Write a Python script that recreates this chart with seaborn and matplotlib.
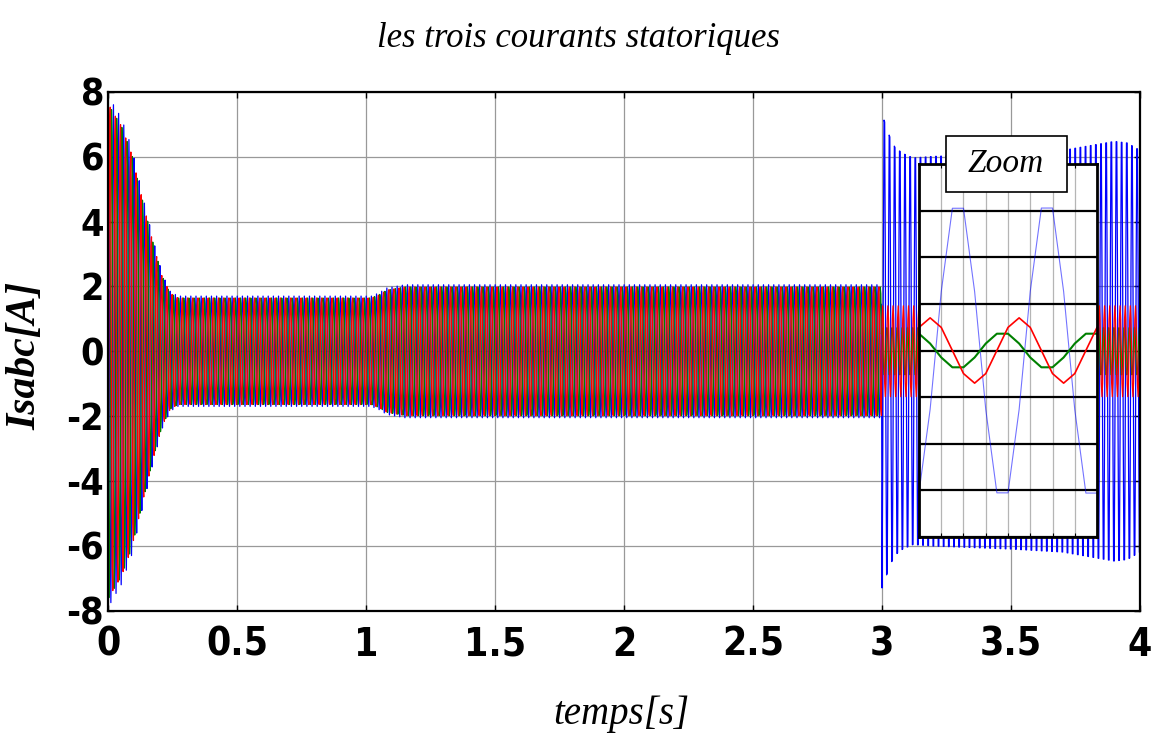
import numpy as np
import pandas as pd
import seaborn as sns
import matplotlib
matplotlib.use('Agg')
import matplotlib.pyplot as plt
from matplotlib import font_manager
from matplotlib.patches import Rectangle

# simulation output step and supply frequency
dt = 0.0025
f_supply = 50.0

# envelope (peak amplitude) of the three stator currents before the fault
env_t = [0.0, 0.02, 0.05, 0.09, 0.136, 0.175, 0.208, 0.24, 0.27, 1.02, 1.05, 1.08, 1.15, 3.0]
env_amp = [7.9, 7.6, 7.2, 6.3, 4.7, 3.4, 2.4, 1.85, 1.7, 1.7, 1.8, 1.95, 2.05, 2.05]
# time of the first peak (within one 20 ms period) of each phase
phase_peak = {'Isa': 0.0, 'Isb': 0.00667, 'Isc': 0.01333}

# after the fault at t = 3 s
t_fault = 3.0
fault_env_t = [3.0, 3.03, 3.05, 3.08, 3.12, 3.2, 3.5, 3.7, 3.8, 3.9, 3.95, 4.0]
fault_amp_a = [7.9, 7.15, 6.8, 6.6, 6.45, 6.5, 6.6, 6.7, 6.85, 7.0, 6.95, 6.7]
fault_amp_b = 1.4
fault_amp_c = 0.78
fault_peak = {'Isa': 0.00875, 'Isb': 0.0025, 'Isc': 0.01875}

phase_colors = {'Isa': '#0000ff', 'Isc': '#008000', 'Isb': '#ff0000'}
draw_order = ['Isa', 'Isc', 'Isb']

x_ticks = [0, 0.5, 1, 1.5, 2, 2.5, 3, 3.5, 4]
x_tick_labels = ['0', '0.5', '1', '1.5', '2', '2.5', '3', '3.5', '4']
y_ticks = [-8, -6, -4, -2, 0, 2, 4, 6, 8]
y_tick_labels = ['-8', '-6', '-4', '-2', '0', '2', '4', '6', '8']
zoom_window = (3.5, 3.54)

# build the three currents
t = np.round(np.arange(0, 4 + dt / 2, dt), 6)
pre = t < t_fault
amp_pre = np.interp(t, env_t, env_amp)
amp_fault = {
    'Isa': np.interp(t, fault_env_t, fault_amp_a),
    'Isb': np.full_like(t, fault_amp_b),
    'Isc': np.full_like(t, fault_amp_c),
}
frames = []
for ph in draw_order:
    w = 2 * np.pi * f_supply
    y = np.where(pre,
                 amp_pre * np.cos(w * (t - phase_peak[ph])),
                 amp_fault[ph] * np.cos(w * (t - fault_peak[ph])))
    frames.append(pd.DataFrame({'t': t, 'i': y, 'phase': ph}))
df = pd.concat(frames, ignore_index=True)

sns.set_style('ticks')
plt.rcParams['text.color'] = 'black'
plt.rcParams['xtick.color'] = 'black'
plt.rcParams['ytick.color'] = 'black'
plt.rcParams['axes.unicode_minus'] = False


def find_font(keys):
    for key in keys:
        for f in font_manager.fontManager.ttflist:
            if key.lower() in f.fname.lower().replace('-', '').replace('_', ''):
                return f.fname
    return None


narrow_path = find_font(['LiberationSansNarrowBold', 'DejaVuSansCondensedBold.',
                         'DejaVuSansCondensedBold'])
if narrow_path:
    xtick_fp = font_manager.FontProperties(fname=narrow_path, size=28)
    ytick_fp = font_manager.FontProperties(fname=narrow_path, size=27)
else:
    xtick_fp = font_manager.FontProperties(family='Liberation Sans',
                                           weight='bold', size=26)
    ytick_fp = font_manager.FontProperties(family='Liberation Sans',
                                           weight='bold', size=25)
serif = ['Liberation Serif', 'DejaVu Serif']

fig = plt.figure(figsize=(11.52, 7.4), dpi=100)
ax = fig.add_axes([0.094, 0.1747, 0.8956, 0.7013])

sns.lineplot(data=df, x='t', y='i', hue='phase', hue_order=draw_order,
             palette=phase_colors, linewidth=0.9, estimator=None,
             sort=False, legend=False, ax=ax)

ax.set_xlim(0, 4)
ax.set_ylim(-8, 8)
ax.set_xticks(x_ticks)
ax.set_xticklabels(x_tick_labels)
ax.set_yticks(y_ticks)
ax.set_yticklabels(y_tick_labels)
ax.grid(True, color='#999999', linewidth=0.9)
ax.set_axisbelow(True)
for s in ax.spines.values():
    s.set_visible(True)
    s.set_linewidth(1.6)
    s.set_color('black')
ax.tick_params(direction='in', length=4, width=1, top=True, right=True)
for lab in ax.get_xticklabels():
    lab.set_fontproperties(xtick_fp)
    lab.set_color('black')
for lab in ax.get_yticklabels():
    lab.set_fontproperties(ytick_fp)
    lab.set_color('black')
ax.tick_params(axis='x', pad=11)
ax.tick_params(axis='y', pad=3)
ax.set_xlabel('')
ax.set_ylabel('')

fig.text(578 / 1152, 1 - 47 / 740, 'les trois courants statoriques',
         ha='center', va='baseline', family=serif, style='italic',
         fontsize=25, color='black')
fig.text(621 / 1152, 1 - 724 / 740, 'temps[s]', ha='center',
         va='baseline', family=serif, style='italic', fontsize=28,
         color='black')
fig.text(25 / 1152, 1 - 356 / 740, 'Isabc[A]', ha='center', va='center',
         rotation=90, family=serif, style='italic', weight='bold',
         fontsize=30, color='black')

# zoom inset
axz = fig.add_axes([919 / 1152, 1 - 537 / 740, 178 / 1152, 373 / 740])
zoom_df = df[(df['t'] >= zoom_window[0] - 1e-9) & (df['t'] <= zoom_window[1] + 1e-9)]
sns.lineplot(data=zoom_df[zoom_df['phase'] == 'Isa'], x='t', y='i',
             color='#0000ff', alpha=0.55, linewidth=0.8, estimator=None,
             sort=False, legend=False, ax=axz)
sns.lineplot(data=zoom_df[zoom_df['phase'] == 'Isc'], x='t', y='i',
             color='#008000', linewidth=1.5, estimator=None,
             sort=False, legend=False, ax=axz)
sns.lineplot(data=zoom_df[zoom_df['phase'] == 'Isb'], x='t', y='i',
             color='#ff0000', linewidth=1.2, estimator=None,
             sort=False, legend=False, ax=axz)
axz.set_xlim(*zoom_window)
axz.set_ylim(-8, 8)
axz.set_xticks(np.linspace(zoom_window[0], zoom_window[1], 9))
axz.set_yticks(y_ticks)
axz.xaxis.grid(True, color='#b5b5b5', linewidth=0.9)
axz.yaxis.grid(True, color='black', linewidth=1.6)
axz.set_axisbelow(True)
axz.tick_params(direction='in', length=3, labelbottom=False,
                labelleft=False, top=True, right=True)
axz.set_xlabel('')
axz.set_ylabel('')
for s in axz.spines.values():
    s.set_linewidth(2)
    s.set_color('black')

# "Zoom" title box sitting on the inset's top edge
fig.patches.append(Rectangle((946 / 1152, 1 - 192 / 740), 121 / 1152,
                             56 / 740, transform=fig.transFigure,
                             facecolor='white', edgecolor='black',
                             linewidth=1.2, zorder=5))
fig.text(1006 / 1152, 1 - 164 / 740, 'Zoom', ha='center', va='center',
         family=serif, style='italic', fontsize=24, zorder=6,
         color='black')

fig.savefig('out.png', dpi=100)
